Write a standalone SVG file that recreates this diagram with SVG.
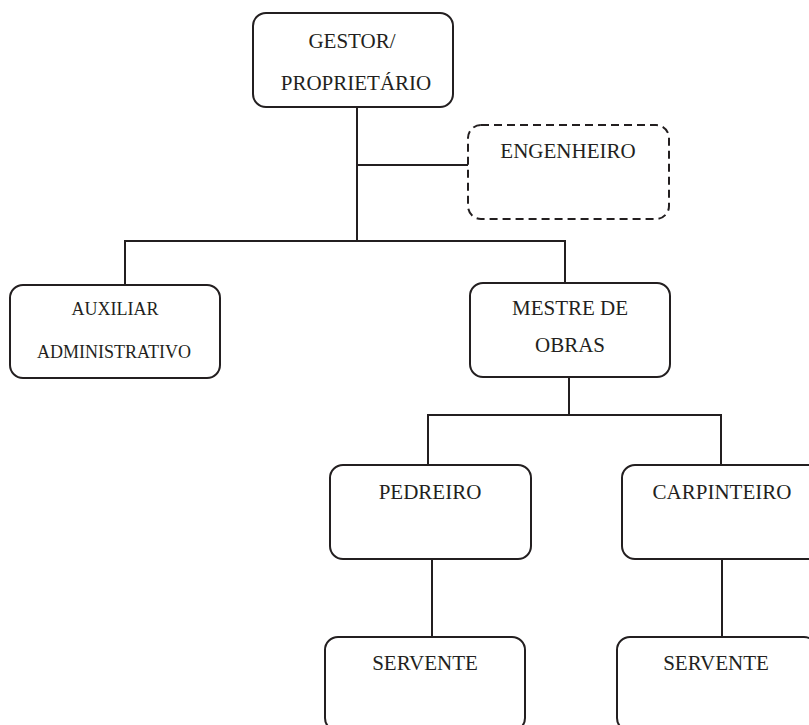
<svg xmlns="http://www.w3.org/2000/svg" width="809" height="725" viewBox="0 0 809 725">
<style>
.box{fill:#fff;stroke:#231f20;stroke-width:2}
.dash{fill:#fff;stroke:#231f20;stroke-width:2;stroke-dasharray:8 5}
.line{fill:none;stroke:#231f20;stroke-width:2}
text{font-family:"Liberation Serif","Times New Roman",serif;font-size:21px;fill:#231f20;text-anchor:middle}
.sm{font-size:18px}
</style>
<rect width="809" height="725" fill="#fff"/>
<g id="connectors">
<path class="line" d="M357 107V241"/>
<path class="line" d="M357 165H468"/>
<path class="line" d="M125 285V241H565V283"/>
<path class="line" d="M569 377V415"/>
<path class="line" d="M428 465V415H721V465"/>
<path class="line" d="M432 559V637"/>
<path class="line" d="M722 559V637"/>
</g>
<g id="gestor">
<rect class="box" x="253" y="13" width="200" height="94" rx="13"/>
<text x="352" y="48">GESTOR/</text>
<text x="356" y="90">PROPRIETÁRIO</text>
</g>
<g id="engenheiro">
<rect class="dash" x="468" y="125" width="201" height="94" rx="13"/>
<text x="568" y="158">ENGENHEIRO</text>
</g>
<g id="auxiliar">
<rect class="box" x="10" y="285" width="210" height="93" rx="13"/>
<text class="sm" x="115" y="315">AUXILIAR</text>
<text class="sm" x="114" y="358">ADMINISTRATIVO</text>
</g>
<g id="mestre">
<rect class="box" x="470" y="283" width="200" height="94" rx="13"/>
<text x="570" y="315">MESTRE DE</text>
<text x="570" y="352">OBRAS</text>
</g>
<g id="pedreiro">
<rect class="box" x="330" y="465" width="201" height="94" rx="13"/>
<text x="430" y="499">PEDREIRO</text>
</g>
<g id="carpinteiro">
<rect class="box" x="622" y="465" width="200" height="94" rx="13"/>
<text x="722" y="499">CARPINTEIRO</text>
</g>
<g id="servente1">
<rect class="box" x="325" y="637" width="200" height="94" rx="13"/>
<text x="425" y="670">SERVENTE</text>
</g>
<g id="servente2">
<rect class="box" x="617" y="637" width="200" height="94" rx="13"/>
<text x="716" y="670">SERVENTE</text>
</g>
</svg>
